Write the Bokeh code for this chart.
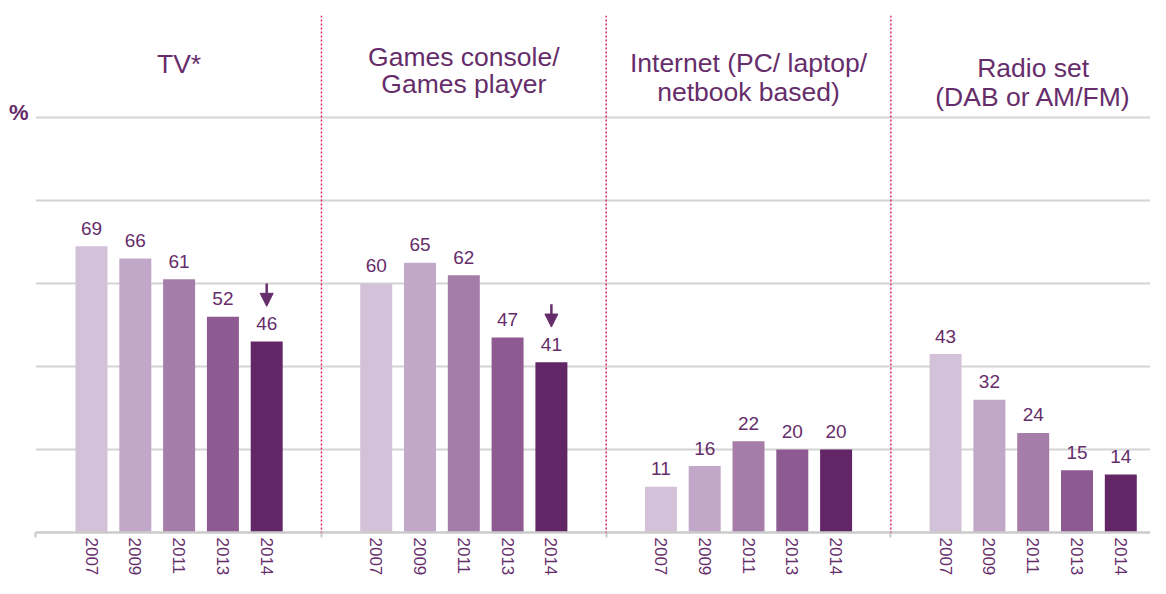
from bokeh.plotting import figure
from bokeh.models import Range1d, FixedTicker, ColumnDataSource, Arrow, NormalHead
from bokeh.core.properties import value
from bokeh.embed import file_html
from bokeh.resources import INLINE

# ---------------- data ----------------
years = ["2007", "2009", "2011", "2013", "2014"]
group_titles = [
    ["TV*"],
    ["Games console/", "Games player"],
    ["Internet (PC/ laptop/", "netbook based)"],
    ["Radio set", "(DAB or AM/FM)"],
]
tv = [69, 66, 61, 52, 46]
games = [60, 65, 62, 47, 41]
internet = [11, 16, 22, 20, 20]
radio = [43, 32, 24, 15, 14]
sig_down = [
    [False, False, False, False, True],
    [False, False, False, False, True],
    [False, False, False, False, False],
    [False, False, False, False, False],
]
y_ticks = [20, 40, 60, 80, 100]

# ---------------- style ----------------
FONT = value("Liberation Sans")
PURPLE = "#662d6b"
bar_colors = ["#d3c1d9", "#c1a8c9", "#a67ca9", "#8d5a91", "#622566"]
DIVIDER = "#e2245f"
GROUP_STEP = 6.5
BAR_W = 0.73
UNIT_PX = 43.8
TOP_PX = 15.0
AXIS_PX = 532.0  # screen y of zero
PX_PER_UNIT = (AXIS_PX - 117.0) / 100.0
title_baselines = [[75], [68, 95], [74, 103], [79, 108]]
TITLE_SIZE = 26.5
TEXT_SHIFT = 0.43  # render correction for alphabetic baseline (em)

series = [tv, games, internet, radio]

xs, tops, colors, labels = [], [], [], []
ax, ay0, ay1 = [], [], []
for g, vals in enumerate(series):
    for i, v in enumerate(vals):
        x = GROUP_STEP * g + i
        xs.append(x)
        tops.append(v)
        colors.append(bar_colors[i])
        labels.append(str(v))
        if sig_down[g][i]:
            ax.append(x)
            ay0.append(v + 14.0)
            ay1.append(v + 8.5)

src = ColumnDataSource(dict(x=xs, top=tops, color=colors, label=labels))

x_start = (35 - 91) / UNIT_PX
x_end = (1150 - 91) / UNIT_PX
y_end = (AXIS_PX - TOP_PX) / PX_PER_UNIT

p = figure(width=1150, height=578,
           x_range=Range1d(x_start, x_end), y_range=Range1d(0, y_end),
           output_backend="svg", toolbar_location=None,
           min_border_left=35, min_border_right=0,
           min_border_top=int(TOP_PX), min_border_bottom=int(578 - AXIS_PX))
p.outline_line_color = None
p.background_fill_color = "white"

# grid
p.xgrid.visible = False
p.ygrid.ticker = FixedTicker(ticks=y_ticks)
p.ygrid.grid_line_color = "#d4d4d4"
p.ygrid.grid_line_width = 2

# y axis: only "%" marker (placed just above the 100 line)
pct_pos = 101.2
p.yaxis.ticker = FixedTicker(ticks=[pct_pos])
p.yaxis.major_label_overrides = {pct_pos: "%"}
p.yaxis.axis_line_color = None
p.yaxis.major_tick_line_color = None
p.yaxis.minor_tick_line_color = None
p.yaxis.major_tick_out = 0
p.yaxis.major_label_standoff = 7
p.yaxis.major_label_text_font = "Liberation Sans"
p.yaxis.major_label_text_font_size = "22px"
p.yaxis.major_label_text_font_style = "bold"
p.yaxis.major_label_text_color = PURPLE

# x axis: years
boundaries = [GROUP_STEP * g + 5.25 for g in range(3)]
p.xaxis.ticker = FixedTicker(ticks=xs, minor_ticks=[x_start] + boundaries)
p.xaxis.major_label_overrides = {x: years[i % 5] for i, x in enumerate(xs)}
p.xaxis.major_label_orientation = "vertical"
p.xaxis.major_tick_line_color = None
p.xaxis.major_tick_out = 0
p.xaxis.major_tick_in = 0
p.xaxis.minor_tick_out = 5
p.xaxis.minor_tick_in = 0
p.xaxis.minor_tick_line_color = "#c8c8c8"
p.xaxis.minor_tick_line_width = 2
p.xaxis.axis_line_color = "#cbcbcb"
p.xaxis.axis_line_width = 2.5
p.xaxis.major_label_standoff = 0
p.xaxis.major_label_text_font = "Liberation Sans"
p.xaxis.major_label_text_font_size = "17px"
p.xaxis.major_label_text_color = PURPLE

# bars
p.vbar(x="x", top="top", bottom=0, width=BAR_W, fill_color="color",
       line_color=None, source=src)

# value labels
p.text(x="x", y="top", text="label", source=src, text_align="center",
       text_baseline="alphabetic", y_offset=-18, text_font=FONT,
       text_font_size="19px", text_color=PURPLE)

# group titles
tx, ty, tt = [], [], []
for g, lines in enumerate(group_titles):
    for j, line in enumerate(lines):
        tx.append(GROUP_STEP * g + 2)
        base = title_baselines[g][j] - TEXT_SHIFT * TITLE_SIZE
        ty.append((AXIS_PX - base) / PX_PER_UNIT)
        tt.append(line)
p.text(x=tx, y=ty, text=tt, text_align="center", text_baseline="alphabetic",
       text_font=FONT, text_font_size=f"{TITLE_SIZE}px", text_color=PURPLE)

# dotted dividers between groups
y_bottom = -(590 - AXIS_PX) / PX_PER_UNIT
dsrc = ColumnDataSource(dict(x=boundaries,
                             y0=[y_end] * len(boundaries),
                             y1=[y_bottom] * len(boundaries)))
p.add_layout(Arrow(end=None, x_start="x", x_end="x", y_start="y0", y_end="y1",
                   line_color=DIVIDER, line_dash="2 2", line_width=1.5,
                   source=dsrc))

# significance arrows
asrc = ColumnDataSource(dict(x=ax, y0=ay0, y1=ay1))
p.add_layout(Arrow(end=NormalHead(size=13, fill_color=PURPLE, line_color=PURPLE,
                                  line_width=1),
                   x_start="x", y_start="y0", x_end="x", y_end="y1",
                   line_color=PURPLE, line_width=2.5, source=asrc))

open("out.html", "w").write(file_html(p, INLINE))
